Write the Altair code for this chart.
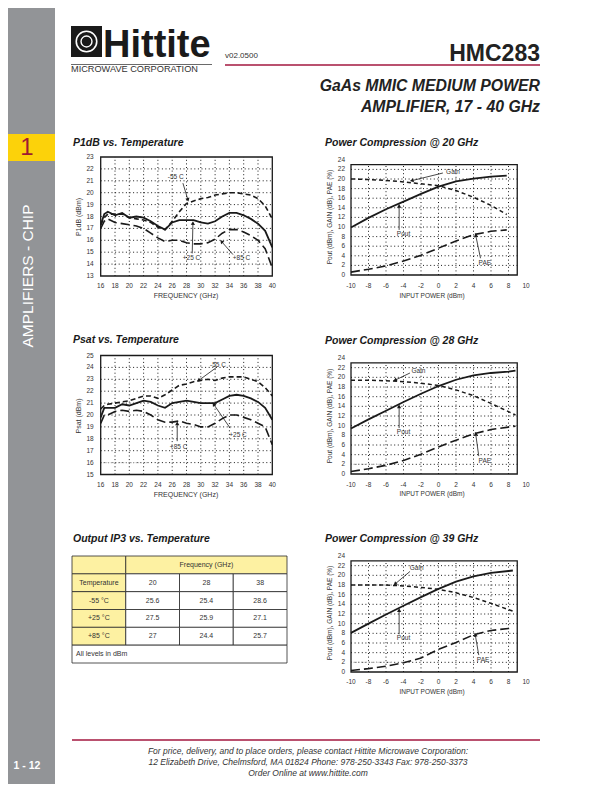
import math
import altair as alt
import pandas as pd

OFF = 8
W, H = 596, 776
FONT = "Liberation Sans"
INK = "#1a1a1a"
TXT = "#333333"
RED = "#a3173f"
SIDEBAR = "#929497"
TAB_YELLOW = "#fcd20a"
TABLE_YEL = "#fdf1a2"

# ---------------- data ----------------
freq = [16, 16.5, 17, 18, 19, 20, 21, 22, 23, 24, 25, 26, 27, 28, 29, 30, 31, 32, 33, 34, 35, 36, 37, 38, 39, 40]
p1db_m55 = [17.3, 17.9, 18.2, 18.2, 18.2, 17.9, 17.8, 17.7, 17.5, 17.1, 16.9, 17.6, 18.4, 19.1, 19.3, 19.5, 19.6, 19.8, 19.9, 20.0, 20.0, 19.9, 19.8, 19.5, 18.9, 17.8]
p1db_p25 = [17.3, 18.2, 18.4, 18.1, 18.3, 17.9, 18.0, 17.9, 17.6, 17.2, 16.9, 17.5, 17.7, 17.7, 17.7, 17.5, 17.4, 17.6, 18.0, 18.3, 18.3, 18.1, 17.8, 17.4, 16.8, 15.4]
p1db_p85 = [17.0, 17.6, 17.8, 17.5, 17.4, 17.3, 17.2, 17.0, 16.6, 16.2, 15.9, 16.0, 16.0, 15.8, 15.7, 15.7, 15.8, 16.1, 16.6, 16.9, 16.9, 16.7, 16.4, 16.0, 15.3, 13.7]

psat_m55 = [20.5, 20.8, 20.9, 21.0, 21.1, 21.2, 21.4, 21.6, 21.6, 21.4, 21.7, 22.1, 22.5, 22.6, 22.8, 22.9, 23.0, 22.9, 23.1, 23.2, 23.2, 23.2, 23.0, 22.8, 22.3, 21.6]
psat_p25 = [19.8, 20.6, 20.6, 20.6, 20.9, 20.8, 21.0, 21.2, 21.1, 20.8, 20.6, 21.0, 21.1, 21.2, 21.1, 21.0, 21.0, 21.0, 21.3, 21.6, 21.7, 21.6, 21.4, 21.1, 20.6, 19.6]
psat_p85 = [19.3, 20.0, 20.0, 20.3, 20.4, 20.3, 20.4, 20.3, 20.0, 19.6, 19.4, 19.4, 19.5, 19.3, 19.2, 19.0, 19.0, 19.3, 19.7, 20.0, 20.0, 19.8, 19.6, 19.3, 19.0, 17.5]

pin20 = [-10, -8, -6, -4, -2, 0, 2, 4, 6, 7.8]
pout20 = [9.9, 11.9, 13.7, 15.3, 16.9, 18.4, 19.5, 20.1, 20.5, 20.7]
gain20 = [20.0, 19.9, 19.7, 19.4, 19.0, 18.6, 17.6, 16.2, 14.5, 12.6]
pae20 = [0.6, 1.2, 1.9, 2.9, 4.1, 5.6, 7.1, 8.4, 9.1, 9.4]

pin28 = [-10, -8, -6, -4, -2, 0, 2, 4, 6, 8, 8.8]
pout28 = [9.4, 11.3, 13.1, 14.9, 16.6, 18.2, 19.5, 20.4, 20.9, 21.2, 21.4]
gain28 = [19.4, 19.4, 19.3, 19.1, 18.8, 18.3, 17.4, 16.2, 14.6, 12.9, 12.2]
pae28 = [0.5, 1.1, 1.8, 2.8, 4.1, 5.6, 7.0, 8.3, 9.2, 9.7, 9.9]

pin39 = [-10, -8, -6, -4, -2, 0, 2, 4, 6, 8, 8.5]
pout39 = [8.1, 10.0, 11.9, 13.7, 15.5, 17.2, 18.7, 19.8, 20.5, 20.9, 21.0]
gain39 = [18.0, 18.0, 18.0, 17.8, 17.5, 17.1, 16.4, 15.4, 14.2, 12.9, 12.6]
pae39 = [0.3, 0.7, 1.2, 1.9, 2.9, 4.7, 6.1, 7.7, 8.6, 9.0, 9.1]

freq_ticks = [16, 18, 20, 22, 24, 26, 28, 30, 32, 34, 36, 38, 40]
p1db_ticks = [13, 14, 15, 16, 17, 18, 19, 20, 21, 22, 23]
psat_ticks = [15, 16, 17, 18, 19, 20, 21, 22, 23, 24, 25]
pin_ticks = [-10, -8, -6, -4, -2, 0, 2, 4, 6, 8, 10]
pc_ticks = [0, 2, 4, 6, 8, 10, 12, 14, 16, 18, 20, 22, 24]

ip3_freqs = ["20", "28", "38"]
ip3_temps = ["-55 \u00b0C", "+25 \u00b0C", "+85 \u00b0C"]
ip3_vals = [["25.6", "25.4", "28.6"], ["27.5", "25.9", "27.1"], ["27", "24.4", "25.7"]]

footer_lines = [
    "For price, delivery, and to place orders, please contact Hittite Microwave Corporation:",
    "12 Elizabeth Drive, Chelmsford, MA 01824 Phone: 978-250-3343  Fax: 978-250-3373",
    "Order Online at www.hittite.com",
]


def P(v):
    return v - OFF


ONE = [{"k": 0}]


def tx(text, x, y, size=8, weight="normal", style="normal", align="left",
       baseline="middle", color=INK, angle=None, font=FONT):
    kw = dict(font=font, fontSize=size, fontWeight=weight, fontStyle=style,
              align=align, baseline=baseline, color=color)
    if angle is not None:
        kw["angle"] = angle
    return alt.Chart(alt.Data(values=[{"t": text}])).mark_text(**kw).encode(
        x=alt.value(P(x)), y=alt.value(P(y)), text="t:N")


def box(x0, x1, y0, y1, fill, **kw):
    return alt.Chart(alt.Data(values=ONE)).mark_rect(fill=fill, **kw).encode(
        x=alt.value(P(x0)), x2=alt.value(P(x1)), y=alt.value(P(y0)), y2=alt.value(P(y1)))


def hline(x0, x1, y, color, width):
    return alt.Chart(alt.Data(values=ONE)).mark_rule(color=color, strokeWidth=width).encode(
        x=alt.value(P(x0)), x2=alt.value(P(x1)), y=alt.value(P(y)))


def panel(xdom, xpx, ydom, ypx, xframe, yframe, gx, gy, xt, yt, series,
          notes, arrows, xdy, ydx, faint=None):
    xs = alt.Scale(domain=xdom, range=[P(xpx[0]), P(xpx[1])], nice=False, zero=False)
    ys = alt.Scale(domain=ydom, range=[P(ypx[0]), P(ypx[1])], nice=False, zero=False)

    def X(f):
        return alt.X(f, type="quantitative", scale=xs, axis=None)

    def Y(f):
        return alt.Y(f, type="quantitative", scale=ys, axis=None)

    layers = []
    vg = pd.DataFrame({"v": gx, "a": [yframe[0]] * len(gx), "b": [yframe[1]] * len(gx)})
    layers.append(alt.Chart(vg).mark_rule(color=INK, strokeWidth=1, strokeDash=[1, 2.6]).encode(
        x=X("v"), y=Y("a"), y2="b"))
    hg = pd.DataFrame({"v": gy, "a": [xframe[0]] * len(gy), "b": [xframe[1]] * len(gy)})
    layers.append(alt.Chart(hg).mark_rule(color=INK, strokeWidth=1, strokeDash=[1, 2.6]).encode(
        y=Y("v"), x=X("a"), x2="b"))
    if faint:
        fd = pd.DataFrame({"x0": [faint[0]], "x1": [faint[1]], "y": [faint[2]]})
        layers.append(alt.Chart(fd).mark_rule(color="#b8b8b8", strokeWidth=1.2, strokeDash=[1, 1.5]).encode(
            x=X("x0"), x2="x1", y=Y("y")))
    fr = pd.DataFrame({"x0": [xframe[0]], "x1": [xframe[1]], "y0": [yframe[0]], "y1": [yframe[1]]})
    layers.append(alt.Chart(fr).mark_rect(fillOpacity=0, stroke=INK, strokeWidth=1.3).encode(
        x=X("x0"), x2="x1", y=Y("y0"), y2="y1"))
    for sx, sy, dash, w in series:
        df = pd.DataFrame({"x": sx, "y": sy})
        kw = dict(color=INK, strokeWidth=w)
        if dash:
            kw["strokeDash"] = dash
        layers.append(alt.Chart(df).mark_line(**kw).encode(x=X("x"), y=Y("y")))
    kx = (xpx[1] - xpx[0]) / (xdom[1] - xdom[0])
    ky = (ypx[0] - ypx[1]) / (ydom[1] - ydom[0])
    ar = pd.DataFrame(arrows, columns=["ax", "ay", "bx", "by"])
    ar["ang"] = [math.degrees(math.atan2((r.bx - r.ax) * kx, (r.by - r.ay) * ky)) % 360
                 for r in ar.itertuples()]
    layers.append(alt.Chart(ar).mark_rule(color=INK, strokeWidth=0.8).encode(
        x=X("ax"), y=Y("ay"), x2="bx", y2="by"))
    layers.append(alt.Chart(ar).mark_point(shape="triangle-up", filled=True, size=18,
                                           color=INK, opacity=1).encode(
        x=X("bx"), y=Y("by"), angle=alt.Angle("ang:Q", scale=None)))
    nt = pd.DataFrame(notes, columns=["x", "y", "t"])
    layers.append(alt.Chart(nt).mark_text(font=FONT, fontSize=6.5, color=TXT).encode(
        x=X("x"), y=Y("y"), text="t:N"))
    xl = pd.DataFrame({"v": xt, "lab": [str(v) for v in xt], "b": [ydom[0]] * len(xt)})
    layers.append(alt.Chart(xl).mark_text(font=FONT, fontSize=6.5, color=TXT, dy=xdy).encode(
        x=X("v"), y=Y("b"), text="lab:N"))
    yl = pd.DataFrame({"v": yt, "lab": [str(v) for v in yt], "b": [xdom[0]] * len(yt)})
    layers.append(alt.Chart(yl).mark_text(font=FONT, fontSize=6.5, color=TXT, align="right", dx=ydx).encode(
        x=X("b"), y=Y("v"), text="lab:N"))
    return alt.layer(*layers)


DASH_A = [5, 3]
DASH_B = [9, 4]
DASH_G = [4, 3]

grid_f = [18, 20, 22, 24, 26, 28, 30, 32, 34, 36, 38]
grid_pin = [-8, -6, -4, -2, 0, 2, 4, 6, 8]
grid_pc = [2, 4, 6, 8, 10, 12, 14, 16, 18, 20, 22]

c1 = panel([16, 40], [100.7, 272.3], [13, 23], [276, 157], [16, 40], [13, 23],
           grid_f, [14, 15, 16, 17, 18, 19, 20, 21, 22], freq_ticks, p1db_ticks,
           [(freq, p1db_m55, DASH_A, 1.6), (freq, p1db_p85, DASH_B, 1.6), (freq, p1db_p25, None, 1.8)],
           [(26.5, 21.35, "-55 C"), (28.7, 14.5, "+25 C"), (35.7, 14.5, "+85 C")],
           [(27.5, 20.8, 28.2, 19.4), (28.8, 14.9, 28.9, 17.45), (34.5, 14.8, 32.9, 15.9)],
           10, -7)

c3 = panel([16, 40], [100.7, 272.3], [15, 25], [474.5, 355.5], [16, 40], [15, 25],
           grid_f, [16, 17, 18, 19, 20, 21, 22, 23, 24], freq_ticks, psat_ticks,
           [(freq, psat_m55, DASH_A, 1.6), (freq, psat_p85, DASH_B, 1.6), (freq, psat_p25, None, 1.8)],
           [(32.4, 24.2, "-55 C"), (35.2, 18.3, "+25 C"), (26.9, 17.3, "+85 C")],
           [(32.2, 24.0, 29.7, 22.9), (34.1, 18.9, 31.8, 20.9), (26.7, 17.8, 26.7, 19.3)],
           10.5, -7, faint=(16, 22.5, 16))

c2 = panel([-10, 10], [351, 526], [0, 24], [275, 159.8], [-10, 9.0], [0, 23],
           grid_pin, grid_pc, pin_ticks, pc_ticks,
           [(pin20, gain20, DASH_G, 1.5), (pin20, pae20, DASH_B, 1.6), (pin20, pout20, None, 1.8)],
           [(1.65, 21.5, "Gain"), (-4.0, 8.5, "Pout"), (5.3, 2.6, "PAE")],
           [(0.5, 21.25, -3.06, 19.65), (-4.5, 9.4, -4.5, 14.4), (4.8, 3.5, 4.25, 8.3)],
           11, -6)

c4 = panel([-10, 10], [351, 526], [0, 24], [474, 358], [-10, 9.0], [0, 23],
           grid_pin, grid_pc, pin_ticks, pc_ticks,
           [(pin28, gain28, DASH_G, 1.5), (pin28, pae28, DASH_B, 1.6), (pin28, pout28, None, 1.8)],
           [(-2.3, 21.4, "Gain"), (-4.0, 8.7, "Pout"), (5.3, 2.6, "PAE")],
           [(-3.26, 20.9, -4.97, 19.4), (-4.5, 9.5, -4.5, 14.0), (4.6, 3.7, 4.25, 8.3)],
           11, -6, faint=(-10, -6.3, 2))

c5 = panel([-10, 10], [351, 526], [0, 24], [672, 556], [-10, 9.0], [0, 23],
           grid_pin, grid_pc, pin_ticks, pc_ticks,
           [(pin39, gain39, DASH_G, 1.5), (pin39, pae39, DASH_B, 1.6), (pin39, pout39, None, 1.8)],
           [(-2.5, 21.5, "Gain"), (-4.0, 7.0, "Pout"), (5.1, 2.5, "PAE")],
           [(-3.26, 20.8, -4.97, 18.2), (-4.5, 7.8, -4.5, 12.8), (4.6, 3.5, 4.2, 7.7)],
           10, -6, faint=(-10, -5.2, 2))

# ---------------- table ----------------
ts_x = alt.Scale(domain=[0, 4], range=[P(72), P(287)], nice=False, zero=False)
ts_y = alt.Scale(domain=[0, 6], range=[P(556), P(663)], nice=False, zero=False)
cells = [(0, 1, 0, 1, TABLE_YEL, ""), (1, 4, 0, 1, TABLE_YEL, "Frequency (GHz)"),
         (0, 1, 1, 2, TABLE_YEL, "Temperature")]
for j, f in enumerate(ip3_freqs):
    cells.append((1 + j, 2 + j, 1, 2, "white", f))
for i, t in enumerate(ip3_temps):
    cells.append((0, 1, 2 + i, 3 + i, TABLE_YEL, t))
    for j, v in enumerate(ip3_vals[i]):
        cells.append((1 + j, 2 + j, 2 + i, 3 + i, "white", v))
cdf = pd.DataFrame(cells, columns=["c0", "c1", "r0", "r1", "fill", "t"])
cdf["cx"] = (cdf.c0 + cdf.c1) / 2
cdf["cy"] = (cdf.r0 + cdf.r1) / 2
last = pd.DataFrame({"c0": [0], "c1": [4], "r0": [5], "r1": [6], "t": ["All levels in dBm"], "cy": [5.5]})
table = alt.layer(
    alt.Chart(cdf).mark_rect(stroke="#2a2a2a", strokeWidth=0.8).encode(
        x=alt.X("c0:Q", scale=ts_x, axis=None), x2="c1",
        y=alt.Y("r0:Q", scale=ts_y, axis=None), y2="r1",
        fill=alt.Fill("fill:N", scale=None)),
    alt.Chart(last).mark_rect(stroke="#2a2a2a", strokeWidth=0.8, fill="white").encode(
        x=alt.X("c0:Q", scale=ts_x, axis=None), x2="c1",
        y=alt.Y("r0:Q", scale=ts_y, axis=None), y2="r1"),
    alt.Chart(cdf).mark_text(font=FONT, fontSize=7, color=TXT).encode(
        x=alt.X("cx:Q", scale=ts_x, axis=None), y=alt.Y("cy:Q", scale=ts_y, axis=None), text="t:N"),
    alt.Chart(last).mark_text(font=FONT, fontSize=7, color=TXT, align="left", dx=4).encode(
        x=alt.X("c0:Q", scale=ts_x, axis=None), y=alt.Y("cy:Q", scale=ts_y, axis=None), text="t:N"),
)

# ---------------- page decoration ----------------
deco = [
    box(0, 55, 0, 800, SIDEBAR),
    box(0, 55, 134, 161, TAB_YELLOW),
    tx("1", 27, 148, size=24, align="center", color="#9e1b32"),
    tx("AMPLIFIERS - CHIP", 28, 276, size=15.5, align="center", color="white", angle=270),
    tx("1 - 12", 27, 766, size=10.5, weight="bold", align="center", color="white"),
    # logo
    box(71, 102, 26, 57, "#1a1a1a"),
    alt.Chart(alt.Data(values=ONE)).mark_point(shape="circle", size=420, color="white",
                                               strokeWidth=1.6, opacity=1).encode(
        x=alt.value(P(86.5)), y=alt.value(P(41.5))),
    alt.Chart(alt.Data(values=ONE)).mark_point(shape="circle", size=120, color="white",
                                               strokeWidth=1.4, opacity=1).encode(
        x=alt.value(P(86.5)), y=alt.value(P(41.5))),
    tx("Hittite", 103, 57, size=38, weight="bold", baseline="alphabetic", color="#1a1a1a"),
    hline(71, 212, 64.5, "#444444", 0.8),
    tx("MICROWAVE CORPORATION", 71, 69, size=9.2, color="#333333"),
    tx("v02.0500", 225, 56, size=8, color="#333333"),
    hline(225, 540, 65, RED, 1.3),
    tx("HMC283", 540, 61, size=23, weight="bold", align="right", baseline="alphabetic", color="#222222"),
    tx("GaAs MMIC MEDIUM POWER", 540, 91, size=15.8, weight="bold", style="italic", align="right",
       baseline="alphabetic", color="#222222"),
    tx("AMPLIFIER, 17 - 40 GHz", 540, 112, size=15.8, weight="bold", style="italic", align="right",
       baseline="alphabetic", color="#222222"),
    # chart titles
    tx("P1dB vs. Temperature", 73, 143, size=10.5, weight="bold", style="italic"),
    tx("Power Compression @ 20 GHz", 325, 143, size=10.5, weight="bold", style="italic"),
    tx("Psat vs. Temperature", 73, 340, size=10.5, weight="bold", style="italic"),
    tx("Power Compression @ 28 GHz", 325, 341, size=10.5, weight="bold", style="italic"),
    tx("Output IP3 vs. Temperature", 73, 539, size=10.5, weight="bold", style="italic"),
    tx("Power Compression @ 39 GHz", 325, 539, size=10.5, weight="bold", style="italic"),
    # axis titles
    tx("FREQUENCY (GHz)", 186, 296, size=7, align="center", color=TXT),
    tx("P1dB (dBm)", 79, 217, size=7, align="center", color=TXT, angle=270),
    tx("FREQUENCY (GHz)", 186, 495, size=7, align="center", color=TXT),
    tx("Psat (dBm)", 79, 416, size=7, align="center", color=TXT, angle=270),
    tx("INPUT POWER (dBm)", 432, 296, size=6.5, align="center", color=TXT),
    tx("Pout (dBm), GAIN (dB), PAE (%)", 330, 217, size=6.5, align="center", color=TXT, angle=270),
    tx("INPUT POWER (dBm)", 432, 494, size=6.5, align="center", color=TXT),
    tx("Pout (dBm), GAIN (dB), PAE (%)", 330, 416, size=6.5, align="center", color=TXT, angle=270),
    tx("INPUT POWER (dBm)", 432, 692, size=6.5, align="center", color=TXT),
    tx("Pout (dBm), GAIN (dB), PAE (%)", 330, 613, size=6.5, align="center", color=TXT, angle=270),
    # footer
    hline(72, 540, 740, RED, 1.3),
    tx(footer_lines[0], 308, 751, size=8.5, style="italic", align="center", color=TXT),
    tx(footer_lines[1], 308, 762, size=8.5, style="italic", align="center", color=TXT),
    tx(footer_lines[2], 308, 773, size=8.5, style="italic", align="center", color=TXT),
]

chart = alt.layer(*deco, c1, c2, c3, c4, c5, table).resolve_scale(
    x="independent", y="independent"
).properties(
    width=W, height=H, autosize=alt.AutoSizeParams(type="none"), padding=0, background="white"
).configure_view(stroke=None)

chart.save("out.html", embed_options={"renderer": "svg", "actions": False})
